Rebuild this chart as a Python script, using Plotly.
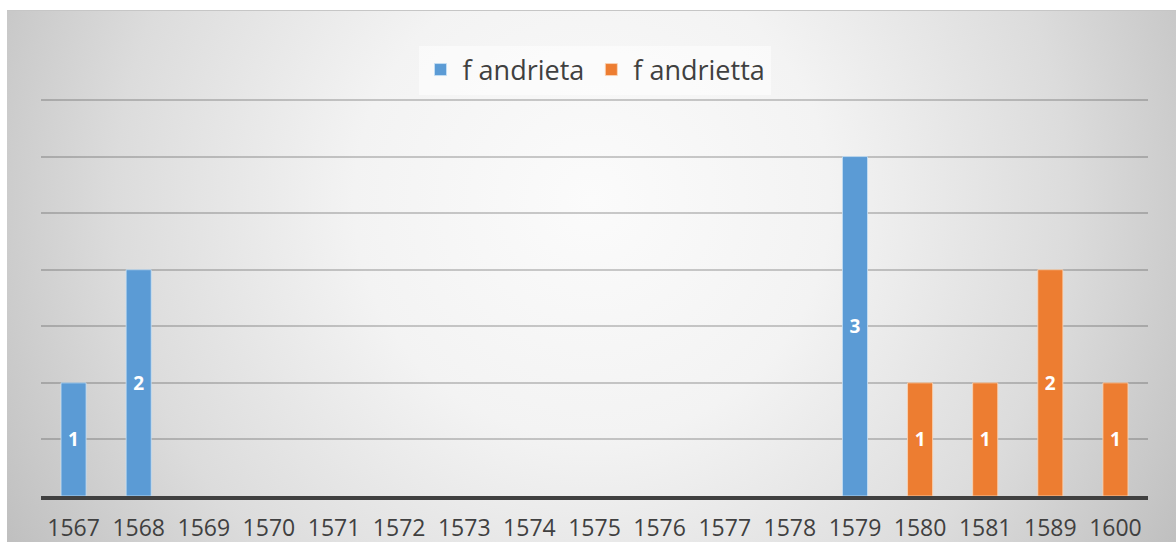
import base64
import plotly.graph_objects as go

categories = ["1567", "1568", "1569", "1570", "1571", "1572", "1573", "1574", "1575",
              "1576", "1577", "1578", "1579", "1580", "1581", "1589", "1600"]
andrieta = [1, 2, None, None, None, None, None, None, None, None, None, None, 3, None, None, None, None]
andrietta = [None, None, None, None, None, None, None, None, None, None, None, None, None, 1, 1, 2, 1]

W, H = 1176, 542
ML, MR, MT, MB = 41, 28, 97, 46
pw, ph = W - ML - MR, H - MT - MB
YMAX = 3.5265

svg_w, svg_h = W - 7, H - 10
svg = f'''<svg xmlns="http://www.w3.org/2000/svg" width="{svg_w}" height="{svg_h}" viewBox="0 0 {svg_w} {svg_h}" preserveAspectRatio="none">
<defs><radialGradient id="g" gradientUnits="userSpaceOnUse" cx="585" cy="190" r="680">
<stop offset="0" stop-color="#fbfbfb"/><stop offset="0.35" stop-color="#f3f3f3"/><stop offset="0.7" stop-color="#dcdcdc"/><stop offset="1" stop-color="#bfbfbf"/></radialGradient></defs>
<rect x="0" y="0" width="{svg_w}" height="{svg_h}" fill="url(#g)"/>
<line x1="0" y1="0.5" x2="{svg_w}" y2="0.5" stroke="#c6c6c6" stroke-width="1"/>
</svg>'''
src = "data:image/svg+xml;base64," + base64.b64encode(svg.encode()).decode()

fig = go.Figure()
common = dict(width=0.385, textposition="inside", insidetextanchor="middle",
              textfont=dict(color="white", size=19, family="Open Sans"),
              texttemplate="<b>%{y}</b>", textangle=0)
fig.add_trace(go.Bar(x=categories, y=andrieta, name="f andrieta",
                     marker=dict(color="#5B9BD5", line=dict(color="rgba(200,225,245,0.8)", width=1)),
                     **common))
fig.add_trace(go.Bar(x=categories, y=andrietta, name="f andrietta",
                     marker=dict(color="#ED7D31", line=dict(color="rgba(250,215,185,0.8)", width=1)),
                     **common))

fig.update_layout(
    width=W, height=H, autosize=False,
    margin=dict(l=ML, r=MR, t=MT, b=MB, pad=0, autoexpand=False),
    paper_bgcolor="white", plot_bgcolor="rgba(0,0,0,0)",
    barmode="overlay",
    font=dict(family="Open Sans", color="#404040"),
    legend=dict(orientation="h", x=0.5, xanchor="center", y=(H - MB - 70) / ph, yanchor="middle",
                bgcolor="rgba(255,255,255,0.5)", font=dict(size=27, color="#404040"),
                itemwidth=34, tracegroupgap=0),
    images=[dict(source=src, xref="paper", yref="paper",
                 x=(7 - ML) / pw, y=(H - MB - 10) / ph,
                 sizex=(W - 7) / pw, sizey=(H - 10) / ph,
                 xanchor="left", yanchor="top", sizing="stretch", layer="below")],
    xaxis=dict(type="category", showline=True, linecolor="#404040", linewidth=4,
               ticks="outside", ticklen=8, tickcolor="rgba(0,0,0,0)", automargin=False,
               tickfont=dict(size=23, color="#404040"), showgrid=False),
    yaxis=dict(range=[0, YMAX], dtick=0.5, showticklabels=False, showgrid=True, automargin=False,
               gridcolor="rgba(50,50,50,0.25)", gridwidth=1.5, zeroline=False),
    showlegend=True,
)

post = ("document.body.style.margin='0';document.body.style.padding='0';"
        "document.documentElement.style.overflow='hidden';document.body.style.overflow='hidden';")

fig.write_html("out.html", post_script=post, config={"displayModeBar": False})
